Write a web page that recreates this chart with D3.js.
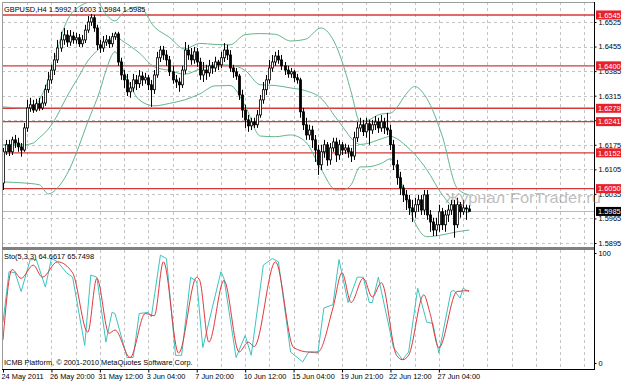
<!DOCTYPE html>
<html>
<head>
<meta charset="utf-8">
<script src="https://cdn.jsdelivr.net/npm/d3@7"></script>
<style>
  body { margin: 0; background: #fff; }
  svg { display: block; }
  text { font-family: "Liberation Sans", Arial, sans-serif; }
</style>
</head>
<body>
<div id="chart"></div>
<script>
// GBPUSD H4 bars
const opens = [
  1.6066, 1.6155, 1.6175, 1.6155, 1.6189, 1.6180, 1.6169, 1.6160, 1.6223, 1.6280,
  1.6289, 1.6274, 1.6292, 1.6280, 1.6294, 1.6332, 1.6360, 1.6388, 1.6417, 1.6451,
  1.6474, 1.6488, 1.6468, 1.6485, 1.6474, 1.6480, 1.6463, 1.6474, 1.6502, 1.6525,
  1.6537, 1.6508, 1.6460, 1.6451, 1.6468, 1.6474, 1.6463, 1.6483, 1.6491, 1.6411,
  1.6374, 1.6360, 1.6326, 1.6337, 1.6360, 1.6349, 1.6371, 1.6360, 1.6366, 1.6346,
  1.6332, 1.6374, 1.6423, 1.6445, 1.6431, 1.6417, 1.6383, 1.6360, 1.6354, 1.6346,
  1.6388, 1.6445, 1.6431, 1.6417, 1.6440, 1.6411, 1.6374, 1.6388, 1.6380, 1.6400,
  1.6394, 1.6411, 1.6403, 1.6423, 1.6445, 1.6431, 1.6394, 1.6383, 1.6371, 1.6317,
  1.6274, 1.6246, 1.6229, 1.6240, 1.6232, 1.6260, 1.6303, 1.6332, 1.6360, 1.6394,
  1.6411, 1.6428, 1.6417, 1.6400, 1.6388, 1.6377, 1.6383, 1.6366, 1.6360, 1.6269,
  1.6232, 1.6203, 1.6217, 1.6189, 1.6160, 1.6118, 1.6155, 1.6175, 1.6132, 1.6166,
  1.6183, 1.6146, 1.6175, 1.6160, 1.6166, 1.6155, 1.6143, 1.6195, 1.6223, 1.6232,
  1.6212, 1.6235, 1.6217, 1.6232, 1.6240, 1.6223, 1.6240, 1.6223, 1.6217, 1.6175,
  1.6118, 1.6081, 1.6052, 1.6032, 1.6018, 1.5995, 1.5984, 1.6004, 1.6018, 1.5989,
  1.6032, 1.5975, 1.5955, 1.5932, 1.5947, 1.5984, 1.5947, 1.5975, 1.5989, 1.6004,
  1.5947, 1.6004, 1.5984, 1.5995, 1.5992
];
const highs = [
  1.6166, 1.6189, 1.6189, 1.6198, 1.6203, 1.6195, 1.6180, 1.6237, 1.6303, 1.6309,
  1.6303, 1.6306, 1.6309, 1.6314, 1.6346, 1.6383, 1.6403, 1.6437, 1.6474, 1.6497,
  1.6508, 1.6502, 1.6502, 1.6497, 1.6494, 1.6491, 1.6488, 1.6517, 1.6542, 1.6548,
  1.6545, 1.6517, 1.6474, 1.6485, 1.6488, 1.6485, 1.6494, 1.6497, 1.6497, 1.6423,
  1.6388, 1.6377, 1.6354, 1.6377, 1.6374, 1.6388, 1.6383, 1.6380, 1.6374, 1.6360,
  1.6388, 1.6440, 1.6457, 1.6457, 1.6445, 1.6428, 1.6400, 1.6374, 1.6366, 1.6400,
  1.6468, 1.6460, 1.6451, 1.6454, 1.6451, 1.6423, 1.6411, 1.6403, 1.6417, 1.6411,
  1.6426, 1.6417, 1.6440, 1.6465, 1.6460, 1.6445, 1.6403, 1.6394, 1.6377, 1.6332,
  1.6289, 1.6260, 1.6252, 1.6252, 1.6274, 1.6317, 1.6354, 1.6374, 1.6417, 1.6431,
  1.6440, 1.6445, 1.6431, 1.6411, 1.6400, 1.6394, 1.6388, 1.6377, 1.6366, 1.6280,
  1.6252, 1.6232, 1.6229, 1.6203, 1.6175, 1.6175, 1.6189, 1.6183, 1.6180, 1.6195,
  1.6195, 1.6189, 1.6183, 1.6178, 1.6175, 1.6166, 1.6212, 1.6240, 1.6252, 1.6246,
  1.6252, 1.6246, 1.6246, 1.6257, 1.6252, 1.6260, 1.6252, 1.6266, 1.6232, 1.6189,
  1.6132, 1.6098, 1.6061, 1.6046, 1.6032, 1.6018, 1.6024, 1.6032, 1.6032, 1.6046,
  1.6046, 1.5989, 1.5967, 1.5967, 1.6004, 1.5995, 1.5989, 1.6004, 1.6018, 1.6018,
  1.6024, 1.6012, 1.6018, 1.6004, 1.6003
];
const lows = [
  1.6046, 1.6146, 1.6143, 1.6146, 1.6166, 1.6155, 1.6141, 1.6155, 1.6212, 1.6269,
  1.6266, 1.6269, 1.6272, 1.6274, 1.6286, 1.6323, 1.6349, 1.6374, 1.6408, 1.6440,
  1.6460, 1.6454, 1.6457, 1.6463, 1.6463, 1.6454, 1.6454, 1.6465, 1.6494, 1.6514,
  1.6497, 1.6445, 1.6437, 1.6440, 1.6457, 1.6451, 1.6454, 1.6474, 1.6400, 1.6360,
  1.6337, 1.6314, 1.6309, 1.6326, 1.6331, 1.6337, 1.6343, 1.6349, 1.6331, 1.6283,
  1.6320, 1.6366, 1.6411, 1.6417, 1.6400, 1.6371, 1.6349, 1.6337, 1.6326, 1.6337,
  1.6377, 1.6417, 1.6403, 1.6406, 1.6397, 1.6360, 1.6354, 1.6360, 1.6369, 1.6377,
  1.6383, 1.6388, 1.6394, 1.6411, 1.6417, 1.6383, 1.6366, 1.6360, 1.6303, 1.6252,
  1.6223, 1.6212, 1.6217, 1.6223, 1.6223, 1.6252, 1.6292, 1.6317, 1.6349, 1.6383,
  1.6400, 1.6406, 1.6388, 1.6374, 1.6366, 1.6366, 1.6354, 1.6349, 1.6252, 1.6217,
  1.6189, 1.6189, 1.6166, 1.6126, 1.6089, 1.6103, 1.6138, 1.6115, 1.6118, 1.6155,
  1.6126, 1.6132, 1.6146, 1.6149, 1.6138, 1.6126, 1.6132, 1.6183, 1.6212, 1.6200,
  1.6195, 1.6175, 1.6206, 1.6217, 1.6209, 1.6212, 1.6206, 1.6203, 1.6160, 1.6103,
  1.6061, 1.6032, 1.6012, 1.5989, 1.5975, 1.5955, 1.5967, 1.5984, 1.5975, 1.5975,
  1.5961, 1.5927, 1.5915, 1.5915, 1.5927, 1.5932, 1.5927, 1.5955, 1.5975, 1.5910,
  1.5938, 1.5967, 1.5975, 1.5961, 1.5984
];
const closes = [
  1.6155, 1.6175, 1.6155, 1.6189, 1.6180, 1.6169, 1.6160, 1.6223, 1.6280, 1.6289,
  1.6274, 1.6292, 1.6280, 1.6294, 1.6332, 1.6360, 1.6388, 1.6417, 1.6451, 1.6474,
  1.6488, 1.6468, 1.6485, 1.6474, 1.6480, 1.6463, 1.6474, 1.6502, 1.6525, 1.6537,
  1.6508, 1.6460, 1.6451, 1.6468, 1.6474, 1.6463, 1.6483, 1.6491, 1.6411, 1.6374,
  1.6360, 1.6326, 1.6337, 1.6360, 1.6349, 1.6371, 1.6360, 1.6366, 1.6346, 1.6332,
  1.6374, 1.6423, 1.6445, 1.6431, 1.6417, 1.6383, 1.6360, 1.6354, 1.6346, 1.6388,
  1.6445, 1.6431, 1.6417, 1.6440, 1.6411, 1.6374, 1.6388, 1.6380, 1.6400, 1.6394,
  1.6411, 1.6403, 1.6423, 1.6445, 1.6431, 1.6394, 1.6383, 1.6371, 1.6317, 1.6274,
  1.6246, 1.6229, 1.6240, 1.6232, 1.6260, 1.6303, 1.6332, 1.6360, 1.6394, 1.6411,
  1.6428, 1.6417, 1.6400, 1.6388, 1.6377, 1.6383, 1.6366, 1.6360, 1.6269, 1.6232,
  1.6203, 1.6217, 1.6189, 1.6160, 1.6118, 1.6155, 1.6175, 1.6132, 1.6166, 1.6183,
  1.6146, 1.6175, 1.6160, 1.6166, 1.6155, 1.6143, 1.6195, 1.6223, 1.6232, 1.6212,
  1.6235, 1.6217, 1.6232, 1.6240, 1.6223, 1.6240, 1.6223, 1.6217, 1.6175, 1.6118,
  1.6081, 1.6052, 1.6032, 1.6018, 1.5995, 1.5984, 1.6004, 1.6018, 1.5989, 1.6032,
  1.5975, 1.5955, 1.5932, 1.5947, 1.5984, 1.5947, 1.5975, 1.5989, 1.6004, 1.5947,
  1.6004, 1.5984, 1.5995, 1.5992, 1.5985
];

// Bollinger bands, [bar, price] points
const bandUpper = [[0, 1.6283], [7, 1.6280], [10, 1.6280], [12, 1.6303], [15, 1.6360], [18, 1.6446], [20, 1.6505],
  [22, 1.6542], [25, 1.6568], [28, 1.6581], [30, 1.6588], [32, 1.6575], [34, 1.6548], [37, 1.6528], [40, 1.6554],
  [45, 1.6568], [50, 1.6511], [55, 1.6481], [60, 1.6448], [65, 1.6464], [70, 1.6461], [75, 1.6460], [80, 1.6489],
  [85, 1.6492], [90, 1.6490], [95, 1.6471], [100, 1.6476], [105, 1.6508], [110, 1.6458], [113, 1.6386], [115, 1.6326],
  [118, 1.6240], [120, 1.6243], [125, 1.6263], [128, 1.6265], [130, 1.6280], [133, 1.6318], [136, 1.6341],
  [140, 1.6307], [145, 1.6203], [150, 1.6052], [154, 1.6032]];
const bandMiddle = [[0, 1.6175], [7, 1.6175], [10, 1.6180], [12, 1.6195], [15, 1.6220], [18, 1.6260], [20, 1.6294],
  [22, 1.6326], [25, 1.6369], [28, 1.6414], [30, 1.6434], [32, 1.6451], [34, 1.6468], [37, 1.6483], [40, 1.6468],
  [45, 1.6437], [50, 1.6397], [55, 1.6387], [60, 1.6376], [65, 1.6391], [70, 1.6403], [75, 1.6402], [80, 1.6387],
  [85, 1.6346], [90, 1.6344], [95, 1.6337], [100, 1.6329], [105, 1.6308], [110, 1.6252], [113, 1.6217], [115, 1.6194],
  [118, 1.6176], [120, 1.6178], [125, 1.6192], [128, 1.6199], [130, 1.6193], [133, 1.6173], [136, 1.6148],
  [140, 1.6104], [145, 1.6034], [150, 1.5990], [154, 1.5982]];
const bandLower = [[0, 1.6069], [7, 1.6066], [12, 1.6061], [15, 1.6035], [18, 1.6052], [20, 1.6075], [22, 1.6106],
  [25, 1.6169], [28, 1.6240], [32, 1.6329], [34, 1.6386], [37, 1.6440], [40, 1.6383], [45, 1.6303], [50, 1.6286],
  [55, 1.6293], [60, 1.6303], [65, 1.6320], [70, 1.6343], [75, 1.6344], [80, 1.6286], [85, 1.6200], [90, 1.6198],
  [95, 1.6203], [100, 1.6183], [105, 1.6107], [110, 1.6046], [113, 1.6048], [115, 1.6061], [118, 1.6112],
  [120, 1.6112], [125, 1.6122], [128, 1.6135], [130, 1.6106], [133, 1.6029], [136, 1.5955], [140, 1.5913],
  [145, 1.5918], [150, 1.5927], [154, 1.5932]];

// Stochastic (5,3,3), [bar, value] points
const stochMain = [[0, 37], [2, 83], [4, 82], [6, 65], [9, 94], [11, 94], [14, 69], [16, 95], [18, 92], [21, 82], [23, 78],
  [27, 16], [29, 80], [31, 78], [34, 19], [36, 46], [37, 45], [41, 5], [43, 5], [45, 45], [48, 46], [49, 42], [52, 98],
  [54, 95], [57, 7], [59, 7], [62, 78], [64, 74], [66, 14], [72, 83], [73, 77], [77, 5], [80, 25], [82, 7], [86, 89],
  [89, 95], [91, 92], [95, 10], [99, 1], [101, 10], [104, 9], [106, 50], [109, 53], [111, 94], [114, 55], [117, 78],
  [119, 78], [121, 55], [122, 55], [124, 78], [129, 14], [132, 3], [134, 10], [137, 68], [140, 37], [142, 36], [144, 9],
  [148, 65], [149, 66], [151, 59], [152, 68], [154, 64.66]];
const stochSignal = [[0, 21], [3, 85], [6, 77], [10, 89], [13, 78], [18, 92], [23, 82], [28, 28], [31, 77], [35, 27],
  [37, 30], [42, 5], [47, 45], [50, 43], [53, 92], [58, 9], [64, 78], [65, 75], [68, 19], [73, 75], [78, 10], [81, 19],
  [83, 15], [90, 92], [96, 14], [101, 10], [104, 10], [109, 50], [112, 82], [115, 55], [119, 77], [122, 60], [125, 73],
  [130, 7], [132, 3], [134, 7], [139, 62], [141, 46], [144, 14], [150, 65], [154, 65.75]];

// levels and axis labels
const levels = [1.6545, 1.6400, 1.6279, 1.6241, 1.6152, 1.6050];
const lastPrice = 1.5985;
const priceTicks = [1.6525, 1.6455, 1.6385, 1.6315, 1.6245, 1.6175, 1.6105, 1.6035, 1.5965, 1.5895];
const timeLabels = ['24 May 2011', '26 May 20:00', '31 May 12:00', '3 Jun 04:00', '7 Jun 20:00',
  '10 Jun 12:00', '15 Jun 04:00', '19 Jun 21:00', '22 Jun 12:00', '27 Jun 04:00'];
const stochTicks = [100, 0];

const W = 623, H = 382;
const left = 2, right = 594;
const mainTop = 2, mainBottom = 247;
const subTop = 250, subBottom = 369;
const barStep = 3.027;
const font = '"Liberation Sans", Arial, sans-serif';

const svg = d3.select('#chart').append('svg').attr('width', W).attr('height', H);
svg.append('rect').attr('width', W).attr('height', H).attr('fill', '#fff');

const x = d3.scaleLinear().domain([0, 195]).range([3, 3 + 195 * barStep]);
const y = d3.scaleLinear().domain([1.5895, 1.6525]).range([243, 22]);
const ys = d3.scaleLinear().domain([0, 100]).range([363, 253]);

svg.append('clipPath').attr('id', 'mainClip')
  .append('rect').attr('x', left).attr('y', mainTop).attr('width', right - left).attr('height', mainBottom - mainTop);
svg.append('clipPath').attr('id', 'subClip')
  .append('rect').attr('x', left).attr('y', subTop).attr('width', right - left).attr('height', subBottom - subTop);

// grid
const gridIdx = d3.range(8, 196, 8);
const grid = svg.append('g').attr('stroke', '#c4c4c4').attr('stroke-dasharray', '3,3').attr('stroke-width', 1);
gridIdx.forEach(i => {
  const gx = Math.round(x(i)) + 0.5;
  grid.append('line').attr('x1', gx).attr('x2', gx).attr('y1', mainTop).attr('y2', mainBottom);
  grid.append('line').attr('x1', gx).attr('x2', gx).attr('y1', subTop).attr('y2', subBottom);
});
priceTicks.forEach(p => {
  const gy = Math.round(y(p)) + 0.5;
  grid.append('line').attr('x1', left).attr('x2', right).attr('y1', gy).attr('y2', gy);
});

const main = svg.append('g').attr('clip-path', 'url(#mainClip)');

// bid line
main.append('line').attr('x1', left).attr('x2', right)
  .attr('y1', Math.round(y(lastPrice)) + 0.5).attr('y2', Math.round(y(lastPrice)) + 0.5)
  .attr('stroke', '#b8b8b8');

// horizontal levels
main.selectAll('line.level').data(levels).join('line').attr('class', 'level')
  .attr('x1', left).attr('x2', right)
  .attr('y1', d => y(d)).attr('y2', d => y(d))
  .attr('stroke', '#d43a3a').attr('stroke-width', 1.4);

// bands
const bandLine = d3.line().x(d => x(d[0])).y(d => y(d[1])).curve(d3.curveMonotoneX);
[bandUpper, bandMiddle, bandLower].forEach(b => {
  main.append('path').datum(b).attr('d', bandLine)
    .attr('fill', 'none').attr('stroke', '#62b58c').attr('stroke-width', 1);
});

// candles
const bars = d3.range(closes.length);
const candle = main.append('g');
bars.forEach(i => {
  const cx = Math.round(x(i)) + 0.5;
  const up = closes[i] >= opens[i];
  candle.append('line').attr('x1', cx).attr('x2', cx)
    .attr('y1', y(highs[i])).attr('y2', y(lows[i])).attr('stroke', '#000');
  const top = y(Math.max(opens[i], closes[i]));
  const bot = y(Math.min(opens[i], closes[i]));
  candle.append('rect').attr('x', cx - 1).attr('y', top)
    .attr('width', 2).attr('height', Math.max(1, bot - top))
    .attr('fill', up ? '#fff' : '#000').attr('stroke', '#000').attr('stroke-width', 0.8);
});

// stochastic
const sub = svg.append('g').attr('clip-path', 'url(#subClip)');
const stLine = d3.line().x(d => x(d[0])).y(d => ys(d[1]));
sub.append('path').datum(stochMain).attr('d', stLine)
  .attr('fill', 'none').attr('stroke', '#3cc3c0').attr('stroke-width', 1);
sub.append('path').datum(stochSignal).attr('d', stLine.curve(d3.curveMonotoneX))
  .attr('fill', 'none').attr('stroke', '#e0393c').attr('stroke-width', 1);

// frames
svg.append('rect').attr('x', left + 0.5).attr('y', mainTop + 0.5).attr('width', right - left).attr('height', mainBottom - mainTop)
  .attr('fill', 'none').attr('stroke', '#9a9a9a');
svg.append('rect').attr('x', left).attr('y', mainBottom).attr('width', right - left + 1).attr('height', 3).attr('fill', '#808080');
svg.append('line').attr('x1', left).attr('x2', right + 1).attr('y1', subBottom + 0.5).attr('y2', subBottom + 0.5).attr('stroke', '#000');
svg.append('line').attr('x1', right + 0.5).attr('x2', right + 0.5).attr('y1', mainTop).attr('y2', subBottom + 1).attr('stroke', '#000');
svg.append('line').attr('x1', left + 0.5).attr('x2', left + 0.5).attr('y1', subTop).attr('y2', subBottom).attr('stroke', '#9a9a9a');

// price axis
const yAxis = d3.axisRight(y).tickValues(priceTicks).tickFormat(d3.format('.4f')).tickSize(2).tickPadding(2);
svg.append('g').attr('transform', 'translate(' + (right + 0.5) + ',0)').call(yAxis)
  .call(g => g.select('.domain').remove())
  .call(g => g.selectAll('text').attr('font-size', 7.4).attr('font-family', font));

const sAxis = d3.axisRight(ys).tickValues(stochTicks).tickFormat(d3.format('d')).tickSize(2).tickPadding(2);
svg.append('g').attr('transform', 'translate(' + (right + 0.5) + ',0)').call(sAxis)
  .call(g => g.select('.domain').remove())
  .call(g => g.selectAll('text').attr('font-size', 7.4).attr('font-family', font));

// level price boxes
const boxes = svg.append('g');
levels.forEach(p => {
  boxes.append('rect').attr('x', 596).attr('y', y(p) - 4.5).attr('width', 25).attr('height', 9).attr('fill', '#e8202a');
  boxes.append('text').attr('x', 598).attr('y', y(p) + 2.7).attr('font-size', 7.4).attr('fill', '#fff').text(d3.format('.4f')(p));
});
boxes.append('rect').attr('x', 596).attr('y', y(lastPrice) - 4.5).attr('width', 25).attr('height', 9).attr('fill', '#000');
boxes.append('text').attr('x', 598).attr('y', y(lastPrice) + 2.7).attr('font-size', 7.4).attr('fill', '#fff').text(d3.format('.4f')(lastPrice));

// time axis
const labelIdx = timeLabels.map((d, k) => k * 16);
const xAxis = d3.axisBottom(x).tickValues(labelIdx).tickFormat((d, k) => timeLabels[k]).tickSize(3).tickPadding(1);
svg.append('g').attr('transform', 'translate(0,' + (subBottom + 0.5) + ')').call(xAxis)
  .call(g => g.select('.domain').remove())
  .call(g => g.selectAll('text').attr('text-anchor', 'start').attr('dx', -2)
    .attr('font-size', 7.4).attr('font-family', font));

// captions
svg.append('text').attr('x', 4).attr('y', 12).attr('font-size', 7.4).attr('fill', '#000')
  .text('GBPUSD,H4  1.5992 1.6003 1.5984 1.5985');
svg.append('text').attr('x', 4).attr('y', 259).attr('font-size', 7.4).attr('fill', '#000')
  .text('Sto(5,3,3) 64.6617 65.7498');
svg.append('text').attr('x', 4).attr('y', 365).attr('font-size', 7.4).attr('fill', '#000')
  .text('ICMB Platform, © 2001-2010 MetaQuotes Software Corp.');

// watermark
svg.append('text').attr('x', 445).attr('y', 203).attr('font-size', 15).attr('fill', '#8c8c8c').attr('opacity', 0.55)
  .attr('textLength', 156).attr('lengthAdjust', 'spacingAndGlyphs')
  .text('Журнал ForTrader.ru');
</script>
</body>
</html>
